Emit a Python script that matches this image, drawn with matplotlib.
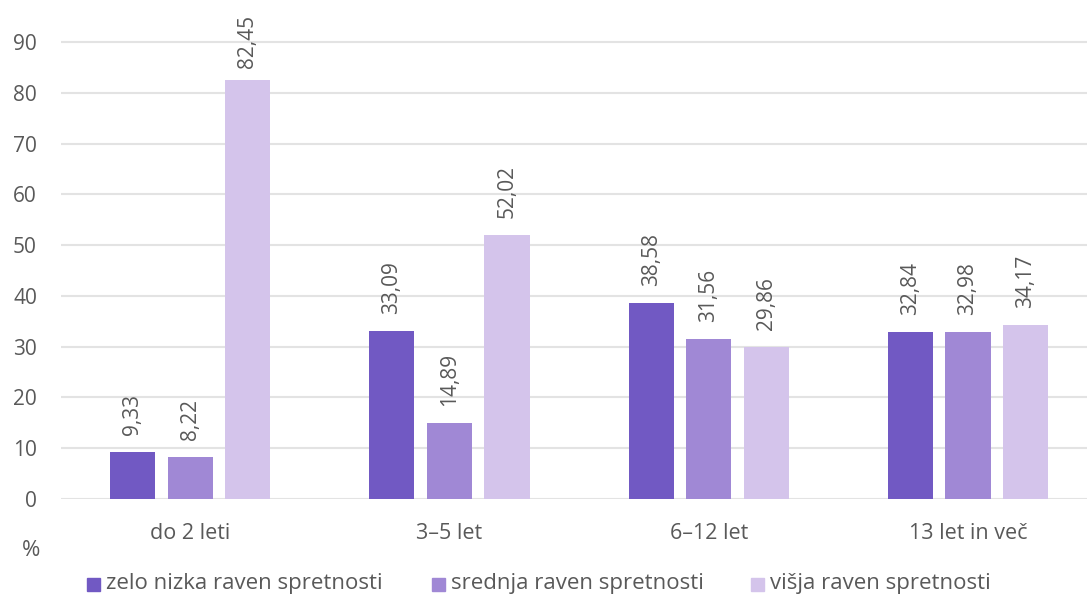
import matplotlib
matplotlib.use("Agg")
import matplotlib.pyplot as plt
import numpy as np
from matplotlib.patches import Rectangle

categories = ["do 2 leti", "3–5 let", "6–12 let", "13 let in več"]
series_names = ["zelo nizka raven spretnosti", "srednja raven spretnosti", "višja raven spretnosti"]
zelo_nizka = [9.33, 33.09, 38.58, 32.84]
srednja = [8.22, 14.89, 31.56, 32.98]
visja = [82.45, 52.02, 29.86, 34.17]
colors = ["#7159C3", "#A088D5", "#D4C4EB"]
yticks = [0, 10, 20, 30, 40, 50, 60, 70, 80, 90]

plt.rcParams['font.family'] = ['Open Sans', 'DejaVu Sans']
txt = "#595959"
W, H = 1087, 594

fig = plt.figure(figsize=(W / 100, H / 100), dpi=100)
left_px, right_px = 60.5, 60.5 + 4 * 259.3
bottom_px, top_px = 499, 12
ax = fig.add_axes([left_px / W, 1 - bottom_px / H, (right_px - left_px) / W, (bottom_px - top_px) / H])

px_per_unit = (499 - 42) / 90.0
ymax = (bottom_px - top_px) / px_per_unit

x = np.arange(len(categories))
step = 0.222
width = 0.174
gap_units = 17 / px_per_unit
label_len_units = 53 / px_per_unit
label_top_limit = (bottom_px - 15) / px_per_unit

data = [zelo_nizka, srednja, visja]
for i, (vals, c) in enumerate(zip(data, colors)):
    pos = x + (i - 1) * step
    ax.bar(pos, vals, width=width, color=c, zorder=3)
    for p, v in zip(pos, vals):
        base = min(v + gap_units, label_top_limit - label_len_units)
        ax.text(p, base, f"{v:.2f}".replace(".", ","), rotation=90, ha="center", va="bottom",
                fontsize=15, color=txt, clip_on=False)

ax.set_xlim(-0.5, 3.5)
ax.set_ylim(0, ymax)
ax.set_yticks(yticks)
ax.set_yticklabels([str(t) for t in yticks], fontsize=15, color=txt)
ax.set_xticks(x)
ax.set_xticklabels(categories, fontsize=15.5, color=txt)
ax.tick_params(axis="both", length=0)
ax.tick_params(axis="y", pad=17)
ax.tick_params(axis="x", pad=17)
for s in ax.spines.values():
    s.set_visible(False)
ax.grid(axis="y", color="#E3E3E3", linewidth=1.5, zorder=0)
ax.set_axisbelow(True)

fig.text(31 / W, 1 - 550 / H, "%", fontsize=16, color=txt, ha="center", va="center")

sq = 13
leg_x = [87, 432, 751]
leg_y = 584
for lx, c, name in zip(leg_x, colors, series_names):
    fig.patches.append(Rectangle((lx / W, 1 - (leg_y + sq / 2) / H), sq / W, sq / H,
                                 transform=fig.transFigure, color=c))
    fig.text((lx + sq + 6) / W, 1 - leg_y / H, name, fontsize=16, color=txt,
             ha="left", va="center")

fig.savefig("out.png", dpi=100)
